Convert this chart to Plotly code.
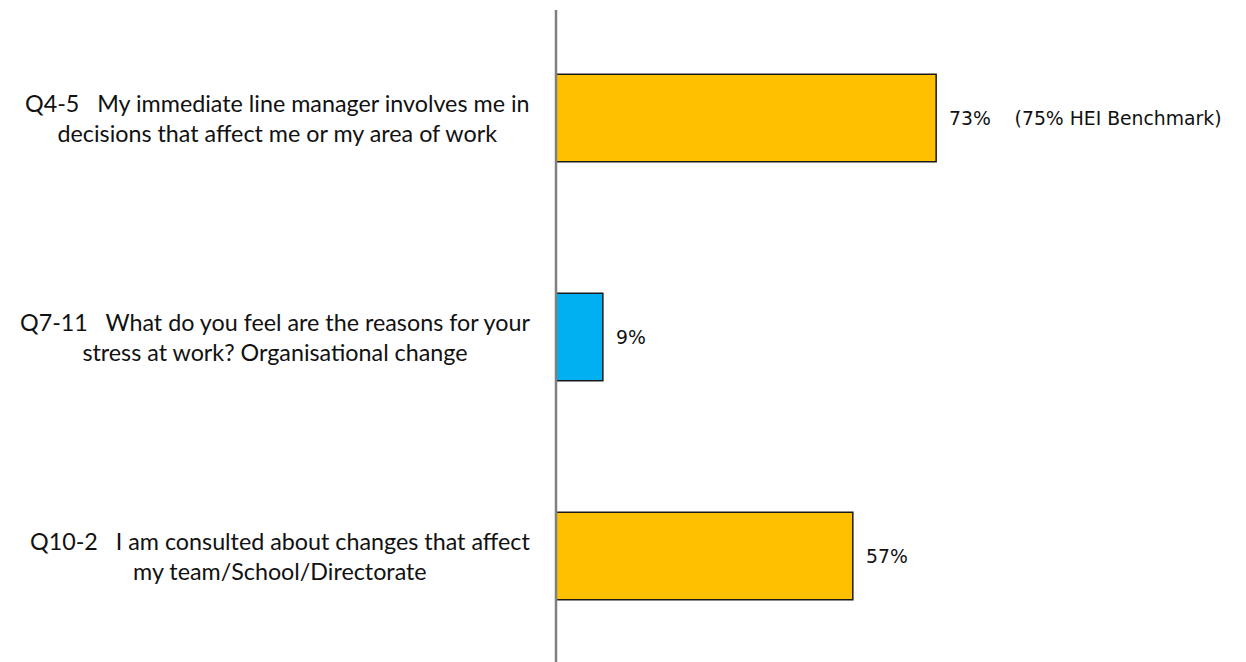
import plotly.graph_objects as go

# Survey items (top to bottom) and their positive-response percentages
questions = [
    "Q4-5\u00a0\u00a0\u00a0My immediate line manager involves me in<br>decisions that affect me or my area of work",
    "Q7-11\u00a0\u00a0\u00a0What do you feel are the reasons for your<br>stress at work? Organisational change",
    "Q10-2\u00a0\u00a0\u00a0I am consulted about changes that affect<br>my team/School/Directorate",
]
values = [73, 9, 57]
value_labels = ["73%\u00a0\u00a0\u00a0\u00a0(75% HEI Benchmark)", "9%", "57%"]
bar_colors = ["#FFC000", "#00B0F0", "#FFC000"]

positions = list(range(len(values)))

fig = go.Figure(
    go.Bar(
        x=values,
        y=positions,
        orientation="h",
        width=0.4,
        marker=dict(color=bar_colors, line=dict(color="#1a1a1a", width=1.5)),
        hoverinfo="skip",
    )
)

annotations = []
for pos, q, v, lab in zip(positions, questions, values, value_labels):
    # question text, centred lines, right edge left of the axis
    annotations.append(dict(
        x=0, y=pos, xref="paper", yref="y", text=q, showarrow=False,
        xanchor="right", yanchor="middle", align="center", xshift=-24,
        font=dict(family="Lato", size=23.3, color="#111111"),
    ))
    # value label just past the bar end
    annotations.append(dict(
        x=v, y=pos, xref="x", yref="y", text=lab, showarrow=False,
        xanchor="left", yanchor="middle", align="left", xshift=11,
        font=dict(family="DejaVu Sans", size=18.8, color="#111111"),
    ))

fig.update_layout(
    width=1246, height=662,
    margin=dict(l=556, r=0, t=0, b=0),
    paper_bgcolor="white", plot_bgcolor="white",
    showlegend=False,
    annotations=annotations,
    xaxis=dict(range=[0, 132.5], showgrid=False, zeroline=False,
               showticklabels=False, showline=False, ticks=""),
    yaxis=dict(range=[2.484, -0.539], showgrid=False, zeroline=False,
               showticklabels=False, showline=False, ticks=""),
    # vertical category axis line (paper-referenced so it is not clipped)
    shapes=[dict(type="line", xref="paper", yref="paper", x0=0, x1=0,
                 y0=0, y1=(662 - 10) / 662,
                 line=dict(color="#808080", width=2.5), layer="above")],
)

fig.write_html("out.html")
